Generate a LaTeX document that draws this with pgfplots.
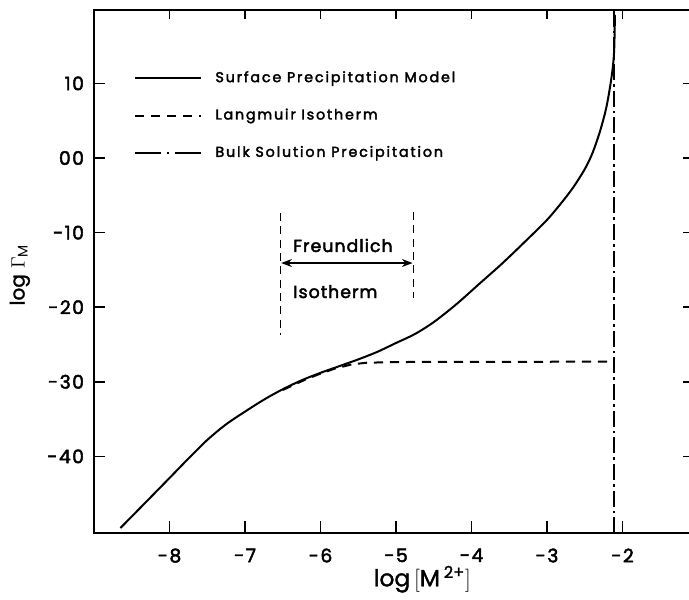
\documentclass[border=0pt]{standalone}
\usepackage{pgfplots}
\pgfplotsset{compat=1.18}
\usepackage{fontspec}
\setmainfont{Poppins}
\newfontfamily\tickfont{Poppins}[FakeBold=2.5, LetterSpace=8]
\newfontfamily\legendfont{Poppins}[FakeBold=2.5, LetterSpace=13]
\newfontfamily\notefont{Poppins}[FakeBold=2.5, LetterSpace=6]
\newfontfamily\labelfont{Poppins}[FakeBold=1.5]
\usetikzlibrary{arrows.meta}

\pgfplotsset{
  dashdotlegend/.style={legend image code/.code={\draw[##1, dash pattern=on 20pt off 4pt on 2pt off 4pt] (0pt,0pt) -- (50pt,0pt);}}
}

% surface precipitation model (log Gamma_M vs log [M2+])
\pgfplotstableread{
x y
-8.65 -4.96
-8.30 -4.60
-8.00 -4.29
-7.75 -4.03
-7.50 -3.78
-7.25 -3.57
-7.00 -3.40
-6.75 -3.24
-6.50 -3.10
-6.25 -2.98
-6.00 -2.88
-5.75 -2.79
-5.50 -2.70
-5.25 -2.60
-5.00 -2.48
-4.75 -2.36
-4.50 -2.20
-4.20 -1.96
-3.90 -1.69
-3.60 -1.42
-3.30 -1.13
-3.00 -0.83
-2.80 -0.59
-2.65 -0.39
-2.50 -0.15
-2.40 0.06
-2.30 0.35
-2.22 0.65
-2.17 0.92
-2.13 1.20
-2.11 1.45
-2.10 1.92
}\surface

\pgfplotstableread{
x y
-6.50 -3.11
-6.20 -2.97
-6.00 -2.89
-5.80 -2.82
-5.60 -2.77
-5.40 -2.745
-5.00 -2.735
-2.17 -2.73
}\langmuir

\begin{document}
\begin{tikzpicture}
\begin{axis}[
  x=56.625pt, y=55.95pt,
  xmin=-9, xmax=-1.08, ymin=-5.03, ymax=1.98,
  axis line style={line width=1.4pt},
  major tick length=0pt,
  xtick={-8,-7,-6,-5,-4,-3,-2},
  xticklabels={-8,-7,-6,-5,-4,-3,-2},
  ytick={1,0,-1,-2,-3,-4},
  yticklabels={10,00,-10,-20,-30,-40},
  ticklabel style={font=\tickfont\fontsize{14}{16}\selectfont},
  xticklabel style={yshift=-8pt},
  yticklabel style={xshift=-4pt},
  xlabel={log\,$\big[$M\,\textsuperscript{2+}$\big]$},
  ylabel={log $\Gamma_{\mathrm{M}}$},
  every axis x label/.style={at={(axis description cs:0.549,-0.088)}, anchor=center, font=\labelfont\fontsize{17.5}{19}\selectfont},
  every axis y label/.style={at={(axis description cs:-0.124,0.494)}, rotate=90, anchor=center, font=\labelfont\fontsize{15}{17}\selectfont},
  legend image code/.code={\draw[#1] (0pt,0pt) -- (50pt,0pt);},
  legend cell align=left,
  legend style={at={(axis cs:-8.48,1.19)}, anchor=north west, draw=none, fill=none,
    inner sep=0pt, row sep=14.5pt, font=\legendfont\fontsize{10.7}{12}\selectfont,
    nodes={inner sep=2pt, text height=7.5pt, text depth=2pt},
    /tikz/every odd column/.append style={column sep=8pt}},
]
\addplot[black, line width=1.5pt, smooth] table {\surface};
\addlegendentry{Surface Precipitation Model}
\addplot[black, line width=1.5pt, dash pattern=on 7pt off 5pt] table {\langmuir};
\addlegendentry{Langmuir Isotherm}
\addplot[black, line width=1.3pt, dash pattern=on 12pt off 3pt on 2pt off 3pt, dashdotlegend]
  coordinates {(-2.11,-5.03) (-2.11,1.98)};
\addlegendentry{Bulk Solution Precipitation}

% Freundlich isotherm range
\addplot[forget plot, black, line width=1pt, dash pattern=on 6pt off 4pt] coordinates {(-6.527,-0.737) (-6.527,-2.373)};
\addplot[forget plot, black, line width=1pt, dash pattern=on 6pt off 4pt] coordinates {(-4.77,-0.724) (-4.77,-1.877)};
\addplot[forget plot, black, line width=1.2pt, {Stealth[length=8pt,width=6pt]}-{Stealth[length=8pt,width=6pt]}]
  coordinates {(-6.52,-1.408) (-4.78,-1.408)};
\node[anchor=base west, inner sep=0pt, font=\notefont\fontsize{13}{15}\selectfont] at (axis cs:-6.364,-1.26) {Freundlich};
\node[anchor=base west, inner sep=0pt, font=\notefont\fontsize{13}{15}\selectfont] at (axis cs:-6.364,-1.877) {Isotherm};

% anchor points for the tick marks
\coordinate (b8) at (axis cs:-8,-5.03);
\coordinate (b7) at (axis cs:-7,-5.03);
\coordinate (b6) at (axis cs:-6,-5.03);
\coordinate (b5) at (axis cs:-5,-5.03);
\coordinate (b4) at (axis cs:-4,-5.03);
\coordinate (b3) at (axis cs:-3,-5.03);
\coordinate (b2) at (axis cs:-2,-5.03);
\coordinate (l1) at (axis cs:-9,1);
\coordinate (l0) at (axis cs:-9,0);
\coordinate (lm1) at (axis cs:-9,-1);
\coordinate (lm2) at (axis cs:-9,-2);
\coordinate (lm3) at (axis cs:-9,-3);
\coordinate (lm4) at (axis cs:-9,-4);
\coordinate (tr) at (axis cs:-1.08,1.98);
\coordinate (bbsw) at (axis cs:-10.245,-5.925);
\coordinate (bbne) at (axis cs:-1.119,2.118);
\end{axis}
% tick marks, inward on all four sides
\foreach \n in {b8,b7,b6,b5,b4,b3,b2} {
  \draw[black, line width=1.3pt] (\n) -- ++(0pt,9pt);
  \draw[black, line width=1.3pt] (\n |- tr) -- ++(0pt,-6.5pt);
}
\foreach \n in {l1,l0,lm1,lm2,lm3,lm4} {
  \draw[black, line width=1.3pt] (\n) -- ++(8pt,0pt);
  \draw[black, line width=1.3pt] (\n -| tr) -- ++(-7pt,0pt);
}
\pgfresetboundingbox
\useasboundingbox (bbsw) rectangle (bbne);
\end{tikzpicture}
\end{document}
